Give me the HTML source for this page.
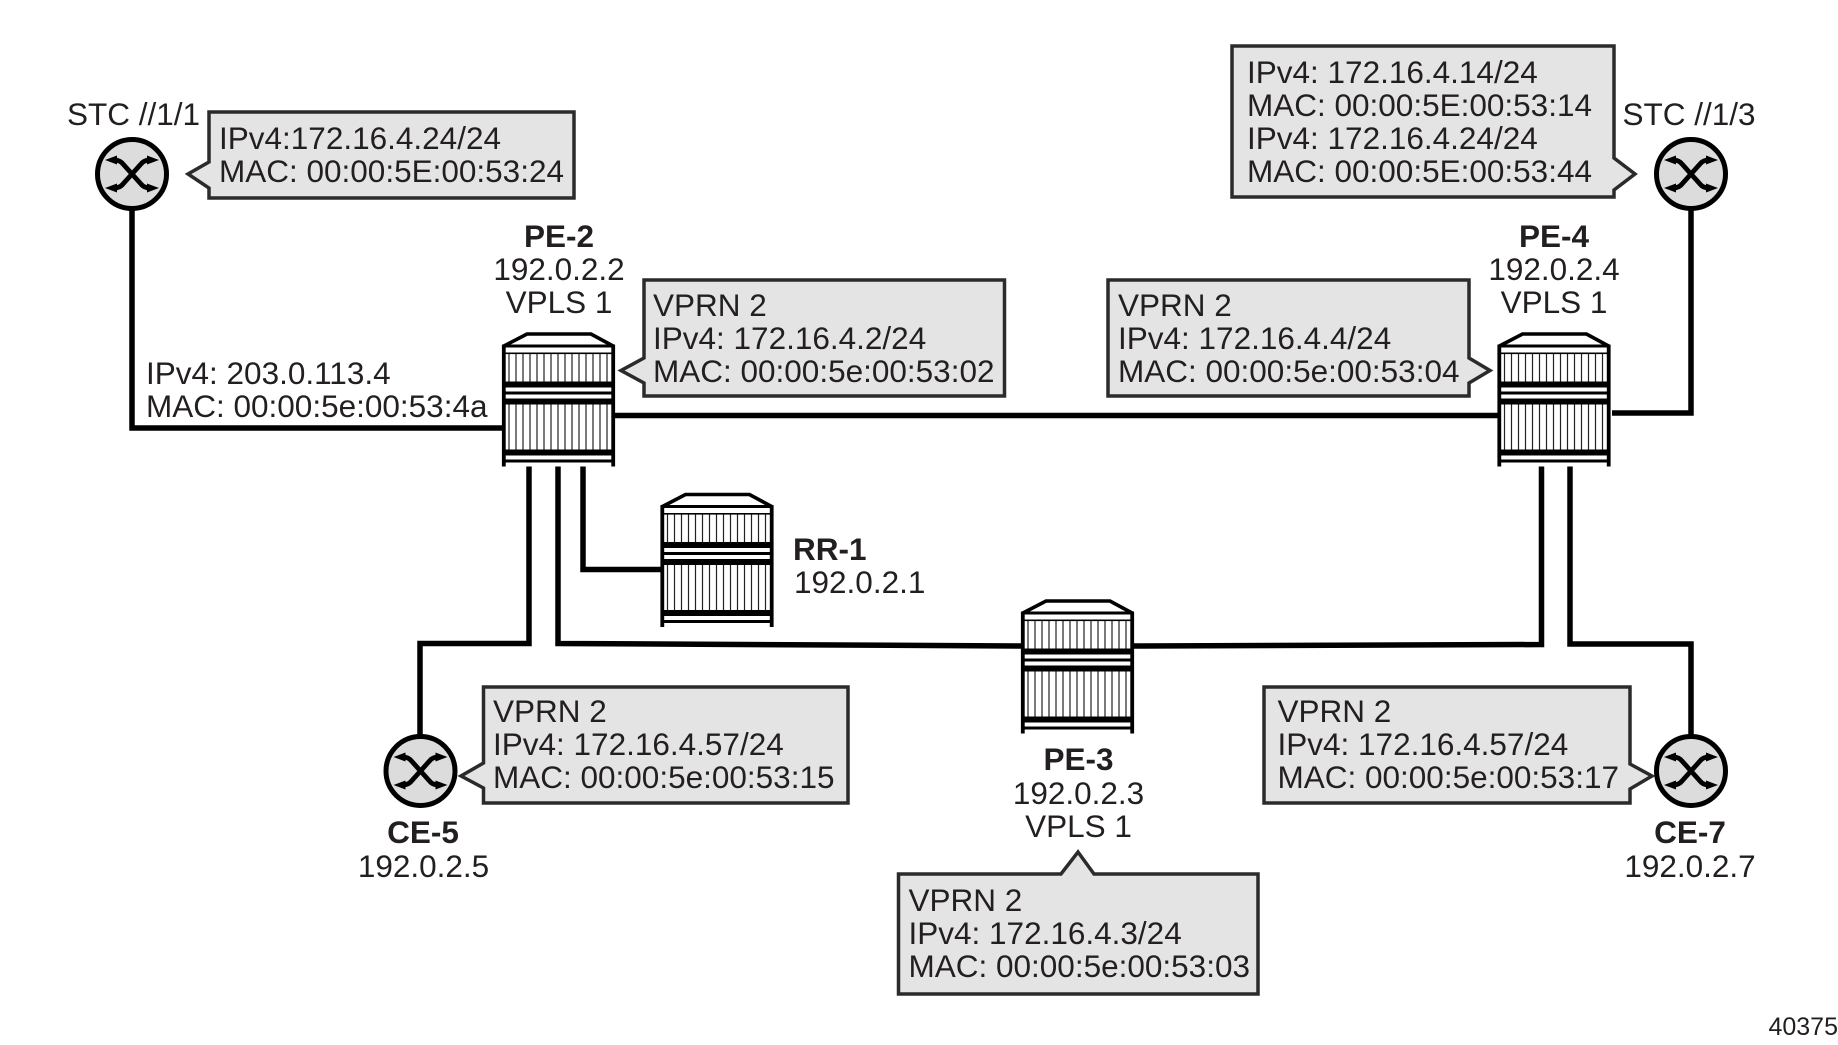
<!DOCTYPE html>
<html>
<head>
<meta charset="utf-8">
<style>
html,body{margin:0;padding:0;background:#fff;width:1838px;height:1045px;overflow:hidden}
svg{display:block}
text{font-family:"Liberation Sans",Arial,sans-serif;font-size:31.5px;fill:#231f20}
.b{font-weight:bold}
.m{text-anchor:middle}
.c{fill:#e4e4e4;stroke:#2b2b2b;stroke-width:3.5;stroke-linejoin:miter}
.l{fill:none;stroke:#000;stroke-width:5.5}
</style>
</head>
<body>
<svg width="1838" height="1045" viewBox="0 0 1838 1045" xmlns="http://www.w3.org/2000/svg">
<defs>
<g id="r">
<path d="M2 14 L26 1.5 L90 1.5 L113 14 Z" fill="#fff" stroke="#000" stroke-width="3.6"/>
<rect x="1" y="13" width="113" height="121" fill="#fff"/>
<g stroke="#222" stroke-width="1.2">
<path d="M8 21V49M15 21V49M22 21V49M29 21V49M36 21V49M43 21V49M50 21V49M57 21V49M64 21V49M71 21V49M78 21V49M85 21V49M92 21V49M99 21V49M106 21V49"/>
<path d="M8 72V117M15 72V117M22 72V117M29 72V117M36 72V117M43 72V117M50 72V117M57 72V117M64 72V117M71 72V117M78 72V117M85 72V117M92 72V117M99 72V117M106 72V117"/>
</g>
<path d="M2.800 134V12.500M112.200 134V12.500" stroke="#000" stroke-width="3.800" fill="none"/>
<g fill="#000">
<rect x="1" y="12" width="113" height="3"/>
<rect x="1" y="20" width="113" height="1.600"/>
<rect x="1" y="49" width="113" height="6"/>
<rect x="1" y="59" width="113" height="3"/>
<rect x="1" y="66" width="113" height="6"/>
<rect x="1" y="117" width="113" height="6"/>
<rect x="1" y="127" width="113" height="3"/>
</g>
</g>
<g id="s">
<circle r="34.500" fill="#dcdcdc" stroke="#000" stroke-width="5"/>
<path d="M-18 -14 Q-12 -14 -9 -10 L9 10 Q12 14 18 14 M18 -14 Q12 -14 9 -10 L-9 10 Q-12 14 -18 14" fill="none" stroke="#000" stroke-width="4.800"/>
<path d="M-27 -14 L-15 -18.500 L-15 -9.500 Z M27 -14 L15 -18.500 L15 -9.500 Z M-27 14 L-15 9.500 L-15 18.500 Z M27 14 L15 9.500 L15 18.500 Z" fill="#000"/>
</g>
</defs>

<!-- connectors -->
<path class="l" d="M132 208 V428 H504"/>
<path class="l" d="M613 415.500 H1500"/>
<path class="l" d="M1612 413 H1691 V208"/>
<path class="l" d="M529 466 V643.500 H420 V737"/>
<path class="l" d="M558 466 V643.500 L1024 646"/>
<path class="l" d="M583 466 V569.500 H663"/>
<path class="l" d="M1132 646 L1541.500 644.500 V466"/>
<path class="l" d="M1570 466 V644 H1691 V737"/>

<!-- routers -->
<use href="#r" x="501" y="332.500"/>
<use href="#r" x="1496.500" y="332.500"/>
<use href="#r" x="1020" y="599.500"/>
<use href="#r" x="659.500" y="493"/>

<!-- switches -->
<use href="#s" x="132" y="174"/>
<use href="#s" x="1691" y="174"/>
<use href="#s" x="420.500" y="771"/>
<use href="#s" x="1691" y="771"/>

<!-- callouts -->
<path class="c" d="M209 112 H574 V198 H209 V188 L188 174 L209 162 Z"/>
<path class="c" d="M1232 46 H1614 V158 L1635 174 L1614 190 V197 H1232 Z"/>
<path class="c" d="M644 280 H1004.500 V396 H644 V383 L621 370.500 L644 358 Z"/>
<path class="c" d="M1108 280 H1469 V358 L1490 370.500 L1469 383 V396 H1108 Z"/>
<path class="c" d="M483.500 687 H848 V803 H483.500 V788 L461 776 L483.500 763 Z"/>
<path class="c" d="M1264 687 H1630 V764 L1652 776 L1630 789 V803 H1264 Z"/>
<path class="c" d="M898.500 874 H1061 L1078 852 L1094 874 H1258 V994 H898.500 Z"/>

<!-- labels -->
<text class="m" x="133.500" y="125">STC //1/1</text>
<text x="219" y="149">IPv4:172.16.4.24/24</text>
<text x="219" y="182">MAC: 00:00:5E:00:53:24</text>

<text x="1247" y="83">IPv4: 172.16.4.14/24</text>
<text x="1247" y="116">MAC: 00:00:5E:00:53:14</text>
<text x="1247" y="149">IPv4: 172.16.4.24/24</text>
<text x="1247" y="182">MAC: 00:00:5E:00:53:44</text>
<text class="m" x="1689" y="125">STC //1/3</text>

<text class="m b" x="559" y="247">PE-2</text>
<text class="m" x="559" y="280">192.0.2.2</text>
<text class="m" x="559" y="313">VPLS 1</text>
<text x="653" y="316">VPRN 2</text>
<text x="653" y="349">IPv4: 172.16.4.2/24</text>
<text x="653" y="382">MAC: 00:00:5e:00:53:02</text>

<text x="1118" y="316">VPRN 2</text>
<text x="1118" y="349">IPv4: 172.16.4.4/24</text>
<text x="1118" y="382">MAC: 00:00:5e:00:53:04</text>
<text class="m b" x="1554" y="247">PE-4</text>
<text class="m" x="1554" y="280">192.0.2.4</text>
<text class="m" x="1554" y="313">VPLS 1</text>

<text x="146" y="384">IPv4: 203.0.113.4</text>
<text x="146" y="417">MAC: 00:00:5e:00:53:4a</text>

<text class="b" x="793" y="560">RR-1</text>
<text x="794" y="593">192.0.2.1</text>

<text x="493" y="722">VPRN 2</text>
<text x="493" y="755">IPv4: 172.16.4.57/24</text>
<text x="493" y="788">MAC: 00:00:5e:00:53:15</text>
<text class="m b" x="423" y="843">CE-5</text>
<text class="m" x="423.500" y="877">192.0.2.5</text>

<text x="1277.500" y="722">VPRN 2</text>
<text x="1277.500" y="755">IPv4: 172.16.4.57/24</text>
<text x="1277.500" y="788">MAC: 00:00:5e:00:53:17</text>
<text class="m b" x="1690" y="843">CE-7</text>
<text class="m" x="1690" y="877">192.0.2.7</text>

<text class="m b" x="1078.500" y="770">PE-3</text>
<text class="m" x="1078.500" y="804">192.0.2.3</text>
<text class="m" x="1078.500" y="837">VPLS 1</text>
<text x="908.500" y="911">VPRN 2</text>
<text x="908.500" y="944">IPv4: 172.16.4.3/24</text>
<text x="908.500" y="977">MAC: 00:00:5e:00:53:03</text>

<text x="1838" y="1035" style="font-size:25px;text-anchor:end">40375</text>
</svg>
</body>
</html>
